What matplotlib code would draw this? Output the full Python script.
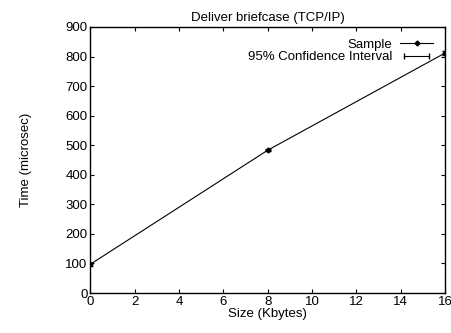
import matplotlib
matplotlib.use('Agg')
import matplotlib.pyplot as plt
from matplotlib.lines import Line2D
from matplotlib.legend_handler import HandlerLine2D

plt.rcParams['font.family'] = ['Liberation Sans', 'DejaVu Sans']

# data
size_kb = [0, 8, 16]
time_us = [97, 483, 812]
ci_err = [4, 4, 6]

fig = plt.figure(figsize=(4.51, 3.33), dpi=100)
ax = fig.add_axes([0.2, 0.12, 0.787, 0.799])

ax.plot(size_kb, time_us, color='black', lw=0.8, marker='D', ms=2.5)
ax.errorbar(size_kb, time_us, yerr=ci_err, fmt='none', ecolor='black',
            elinewidth=0.8, capsize=2)

ax.set_xlim(0, 16)
ax.set_ylim(0, 900)
ax.set_xticks(range(0, 17, 2))
ax.set_yticks(range(0, 901, 100))
ax.tick_params(direction='in', top=True, right=True, labelsize=9.5, length=3, width=0.8, pad=2)
for s in ax.spines.values():
    s.set_linewidth(1.0)

ax.set_title('Deliver briefcase (TCP/IP)', fontsize=9.5, pad=4)
ax.set_xlabel('Size (Kbytes)', fontsize=9.5, labelpad=0)
ax.set_ylabel('Time (microsec)', fontsize=9.5, labelpad=24)

# legend handles: gnuplot style
h_sample = Line2D([], [], color='black', lw=0.8, marker='D', ms=2.5)
h_ci = Line2D([], [], color='black', lw=0.8, marker='|', ms=4)
leg = ax.legend([h_sample, h_ci], ['Sample', '95% Confidence Interval'],
                loc='upper right', frameon=False, fontsize=9.5, markerfirst=False,
                handlelength=2.5, borderaxespad=0.5, labelspacing=0.0, handletextpad=0.6,
                handler_map={h_sample: HandlerLine2D(numpoints=1),
                             h_ci: HandlerLine2D(numpoints=2)})

fig.savefig('out.png', dpi=100)
